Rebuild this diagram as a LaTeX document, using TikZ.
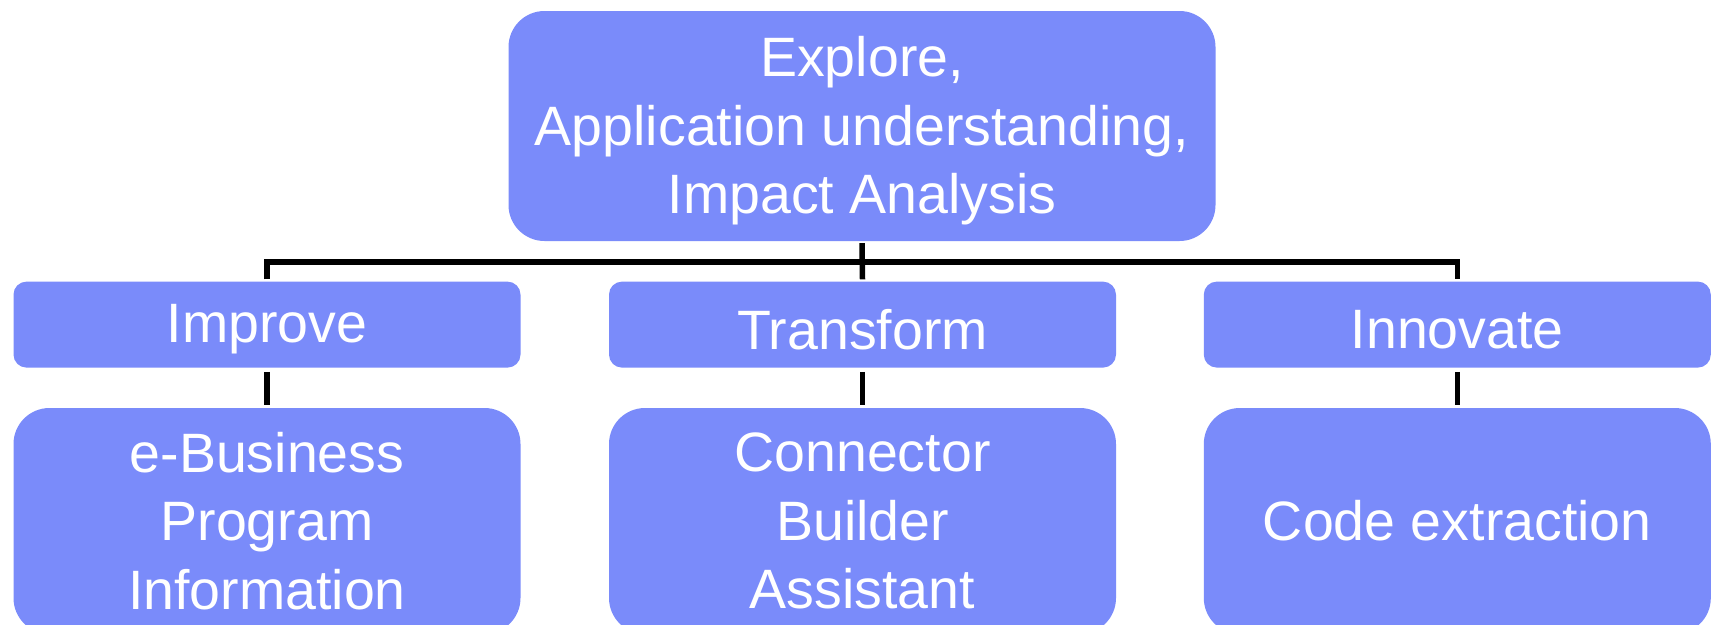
\documentclass[tikz,border=0pt]{standalone}
\usepackage{fontspec}
\setmainfont{Liberation Sans}
\definecolor{boxblue}{RGB}{122,139,250}
\begin{document}
\begin{tikzpicture}[x=1pt,y=-1pt,
  box/.style={fill=boxblue, inner sep=0pt},
  txt/.style={text=white, align=center, inner sep=0pt,
    font=\fontsize{55.5}{68.5}\selectfont},
  bigbox/.style={box, rounded corners=36pt},
  midbox/.style={box, rounded corners=13pt, minimum width=507pt, minimum height=86pt},
  lowbox/.style={box, rounded corners=36pt, minimum width=507pt, minimum height=226pt},
  conn/.style={draw=black, line width=5.5pt}]
\useasboundingbox (0,0) rectangle (1711,624);
\clip (0,0) rectangle (1711,624);
\node[bigbox, minimum width=707pt, minimum height=230pt] (top) at (862,126) {};
\node[txt] (top-t) at ([yshift=-5pt]top.center)
  {Explore,\\Application understanding,\\Impact Analysis};
\node[midbox] (improve) at (267,324.6) {};
\node[midbox] (transform) at (862.5,324.6) {};
\node[midbox] (innovate) at (1457.3,324.6) {};
\node[txt] (improve-t) at ([yshift=-5pt]improve.center) {Improve};
\node[txt] (transform-t) at ([yshift=-5pt]transform.center) {Transform};
\node[txt] (innovate-t) at ([yshift=-5pt]innovate.center) {Innovate};
\node[lowbox] (ebiz) at (267,521) {};
\node[lowbox] (cba) at (862.5,521) {};
\node[lowbox] (code) at (1457.3,521) {};
\node[txt] (ebiz-t) at (ebiz.center) {e-Business\\Program\\Information};
\node[txt] (cba-t) at (cba.center) {Connector\\Builder\\Assistant};
\node[txt] (code-t) at (code.center) {Code extraction};
\coordinate (bus) at (862.5,262);
\draw[conn] ([yshift=2pt]improve.north) |- (bus) -| ([yshift=2pt]innovate.north);
\draw[conn] ([yshift=-2pt]top.south) -- ([yshift=2pt]transform.north);
\draw[conn] ([yshift=-4pt]improve.south) -- ([yshift=3pt]ebiz.north);
\draw[conn] ([yshift=-4pt]transform.south) -- ([yshift=3pt]cba.north);
\draw[conn] ([yshift=-4pt]innovate.south) -- ([yshift=3pt]code.north);
\end{tikzpicture}
\end{document}
